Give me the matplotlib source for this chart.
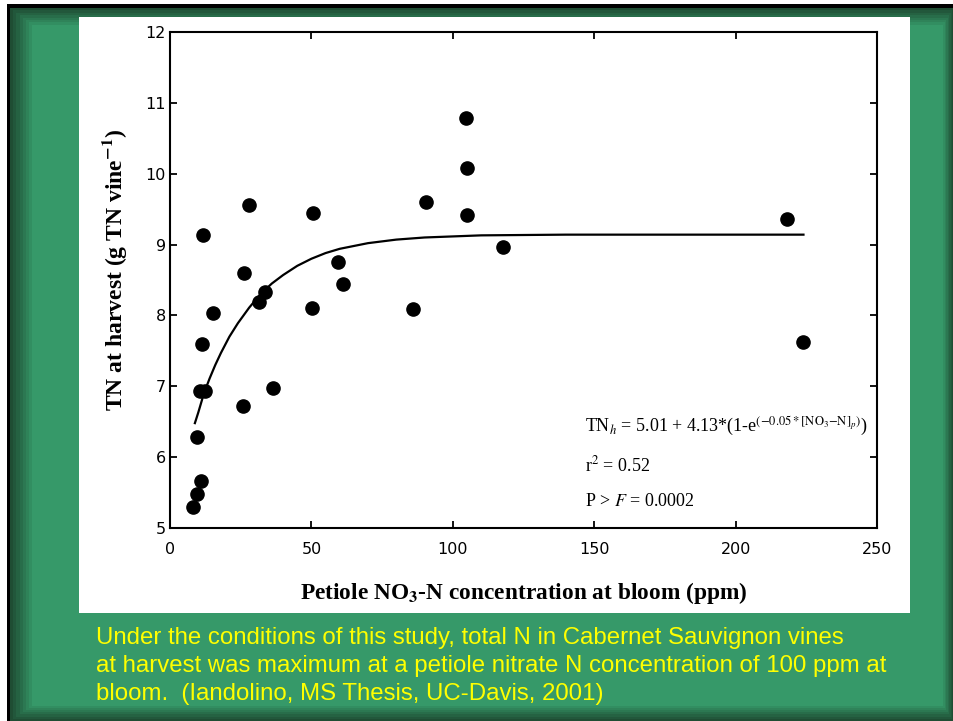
import matplotlib
matplotlib.use("Agg")
import matplotlib.pyplot as plt
from matplotlib.patches import Rectangle

# data
no3_ppm = [8.2, 9.4, 10.9, 9.7, 10.6, 12.4, 11.2, 15.3, 11.8, 26.3, 27.9, 25.7,
           31.4, 33.6, 36.3, 50.3, 50.7, 59.3, 61.3, 86.1, 90.5, 104.6, 105.0,
           105.0, 117.8, 218.1, 224.0]
tn_harvest = [5.30, 5.48, 5.66, 6.29, 6.94, 6.94, 7.60, 8.03, 9.13, 8.60, 9.56, 6.72,
              8.19, 8.33, 6.98, 8.11, 9.45, 8.76, 8.45, 8.09, 9.60, 10.79, 10.08,
              9.42, 8.97, 9.36, 7.62]

# fitted curve, points
fit_x = [8.8, 10, 12, 14, 16, 18, 21, 24, 28, 32, 36, 40, 45, 50, 55, 60, 70, 80,
         90, 110, 140, 224]
fit_y = [6.48, 6.63, 6.90, 7.11, 7.30, 7.47, 7.70, 7.89, 8.11, 8.30, 8.45, 8.57,
         8.70, 8.80, 8.88, 8.94, 9.02, 9.07, 9.10, 9.13, 9.14, 9.14]

x_ticks = [0, 50, 100, 150, 200, 250]
y_ticks = [5, 6, 7, 8, 9, 10, 11, 12]

eq_lines = [r"TN$_h$ = 5.01 + 4.13*(1-e$^{(-0.05*[\mathrm{NO_3}\mathrm{-N}]_p)}$)",
            r"r$^2$ = 0.52",
            r"P > $F$ = 0.0002"]
eq_y = [6.44, 5.89, 5.37]

caption = ["Under the conditions of this study, total N in Cabernet Sauvignon vines",
           "at harvest was maximum at a petiole nitrate N concentration of 100 ppm at",
           "bloom.  (Iandolino, MS Thesis, UC-Davis, 2001)"]

plt.rcParams['mathtext.fontset'] = 'stix'

W, H = 954, 721
fig = plt.figure(figsize=(W / 100, H / 100), dpi=100)
fig.patch.set_facecolor('white')


def px_rect(x0, y0, x1, y1, color, z):
    # pixel box (top-left origin) -> figure fraction rectangle
    r = Rectangle((x0 / W, 1 - y1 / H), (x1 - x0) / W, (y1 - y0) / H,
                  transform=fig.transFigure, facecolor=color, edgecolor='none',
                  zorder=z)
    fig.add_artist(r)


# slide frame: black edge, bevelled green border, green slide
px_rect(7, 4, W, H, 'black', -20)
dark = (0.12, 0.30, 0.20)
green = (0.21, 0.60, 0.41)
n = 8
for i in range(n):
    t = i / (n - 1)
    c = tuple(dark[k] + (green[k] - dark[k]) * t for k in range(3))
    px_rect(10 + i * 3.2, 8 + i * 2.4, W - i * 1.5, H - i * 2.2, c, -19 + i)
px_rect(79, 17, 910, 613, 'white', -5)

ax = fig.add_axes([170 / W, 1 - 528 / H, (877 - 170) / W, (528 - 32) / H])
ax.set_facecolor('white')

ax.plot(fit_x, fit_y, color='black', lw=1.6, zorder=2)
ax.plot(no3_ppm, tn_harvest, 'o', color='black', markersize=9.5, zorder=3)

ax.set_xlim(0, 250)
ax.set_ylim(5, 12)
ax.set_xticks(x_ticks)
ax.set_yticks(y_ticks)
for s in ax.spines.values():
    s.set_linewidth(1.5)
ax.tick_params(direction='in', top=True, right=True, length=5, width=1.3,
               labelsize=11.5, colors='black')
ax.tick_params(axis='x', pad=10)
ax.tick_params(axis='y', pad=3)

ax.set_xlabel(r"Petiole NO$_\mathbf{3}$-N concentration at bloom (ppm)",
              fontfamily='Liberation Serif', fontweight='bold', fontsize=16.8)
ax.xaxis.set_label_coords(0.5, -0.105)
ax.set_ylabel(r"TN at harvest (g TN vine$^{\mathbf{-1}}$)",
              fontfamily='Liberation Serif', fontweight='bold', fontsize=17)
ax.yaxis.set_label_coords(-0.058, 0.52)

for line, yy in zip(eq_lines, eq_y):
    ax.text(146.7, yy, line, ha='left', va='center', fontsize=13,
            fontfamily='Liberation Serif')

cap_y = [638, 666, 694]
for line, yy in zip(caption, cap_y):
    fig.text(96 / W, 1 - yy / H, line, ha='left', va='center', color='#ffff00',
             fontsize=17.3, family=['Liberation Sans'])

fig.savefig('out.png', dpi=100)
